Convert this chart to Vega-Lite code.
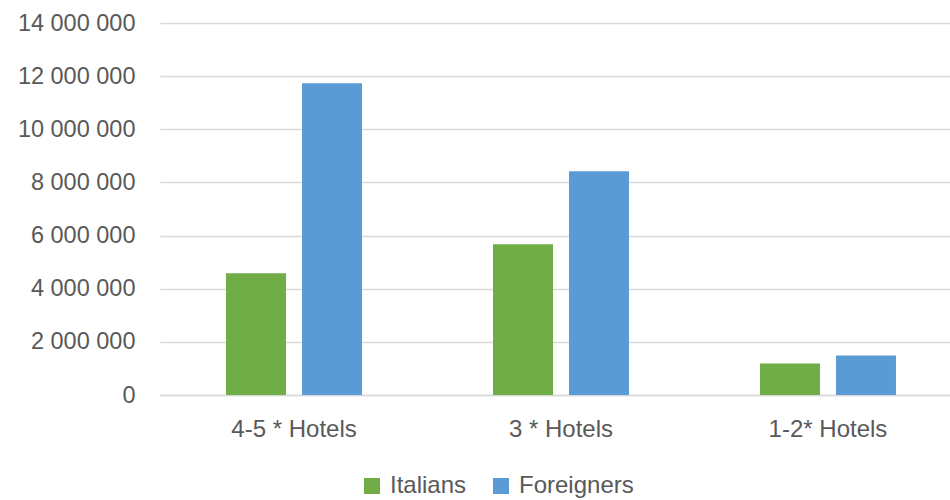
{
  "$schema": "https://vega.github.io/schema/vega-lite/v6.json",
  "autosize": {"type": "none"},
  "padding": {"left": 160, "top": 23, "right": 0, "bottom": 105},
  "width": 790,
  "height": 372,
  "background": "white",
  "config": {
    "view": {"stroke": null},
    "font": "Liberation Sans"
  },
  "data": {
    "values": [
      {"category": "4-5 * Hotels", "group": "Italians", "value": 4580000},
      {"category": "4-5 * Hotels", "group": "Foreigners", "value": 11730000},
      {"category": "3 * Hotels", "group": "Italians", "value": 5670000},
      {"category": "3 * Hotels", "group": "Foreigners", "value": 8420000},
      {"category": "1-2* Hotels", "group": "Italians", "value": 1190000},
      {"category": "1-2* Hotels", "group": "Foreigners", "value": 1490000}
    ]
  },
  "mark": {"type": "bar"},
  "encoding": {
    "x": {
      "field": "category",
      "type": "nominal",
      "sort": ["4-5 * Hotels", "3 * Hotels", "1-2* Hotels"],
      "scale": {"paddingInner": 0.4906, "paddingOuter": 0.2248, "align": 0.55, "round": false},
      "axis": {
        "title": null,
        "labelAngle": 0,
        "ticks": false,
        "domainColor": "#d9d9d9",
        "domainWidth": 1.5,
        "labelFontSize": 24,
        "labelColor": "#595959",
        "labelPadding": 22
      }
    },
    "xOffset": {
      "field": "group",
      "type": "nominal",
      "sort": ["Italians", "Foreigners"],
      "scale": {"paddingInner": 0.2105, "paddingOuter": 0, "round": false}
    },
    "y": {
      "field": "value",
      "type": "quantitative",
      "scale": {"domain": [0, 14000000], "nice": false},
      "axis": {
        "title": null,
        "values": [0, 2000000, 4000000, 6000000, 8000000, 10000000, 12000000, 14000000],
        "labelExpr": "replace(format(datum.value, ','), regexp(',', 'g'), ' ')",
        "domain": false,
        "ticks": false,
        "gridColor": "#d9d9d9",
        "gridWidth": 1.5,
        "labelFontSize": 23.5,
        "labelColor": "#595959",
        "labelPadding": 25
      }
    },
    "color": {
      "field": "group",
      "type": "nominal",
      "sort": ["Italians", "Foreigners"],
      "scale": {"domain": ["Italians", "Foreigners"], "range": ["#70ad47", "#5b9bd5"]},
      "legend": {
        "title": null,
        "orient": "none",
        "direction": "horizontal",
        "legendX": 200,
        "legendY": 451,
        "symbolType": "square",
        "symbolSize": 256,
        "symbolStrokeWidth": 0,
        "symbolOpacity": 1,
        "labelFontSize": 24,
        "labelColor": "#595959",
        "labelOffset": 6,
        "columnPadding": 22
      }
    }
  }
}
